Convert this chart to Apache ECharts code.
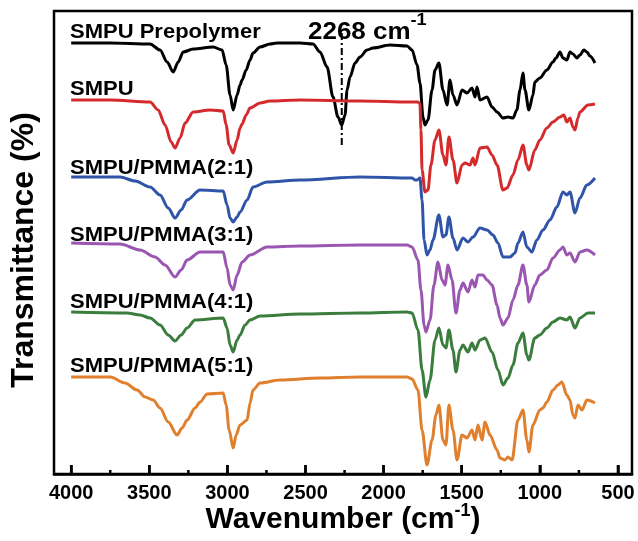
<!DOCTYPE html>
<html>
<head>
<meta charset="utf-8">
<script src="https://cdn.jsdelivr.net/npm/echarts@6/dist/echarts.min.js"></script>
<style>
html,body{margin:0;padding:0;background:#fff;}
#chart{width:638px;height:541px;}
</style>
</head>
<body>
<div id="chart"></div>
<script>
// ---- data: [wavenumber (cm-1), transmittance (offset, a.u.)] ----
const seriesNames = ['SMPU Prepolymer', 'SMPU', 'SMPU/PMMA(2:1)', 'SMPU/PMMA(3:1)', 'SMPU/PMMA(4:1)', 'SMPU/PMMA(5:1)'];
const seriesColors = ['#000000', '#d42a2c', '#2f54a8', '#9a56b0', '#3b7d3d', '#e07f2d'];
const xTicks = [4000, 3500, 3000, 2500, 2000, 1500, 1000, 500];
const xMinorTicks = [3750, 3250, 2750, 2250, 1750, 1250, 750];
const ncoPeak = 2268;
const ncoMarkerT = [441, 329];

const smpuPrepolymer = [[4000,431],[3750,431],[3495,430],[3431,424],[3386,412],[3347,402],[3315,412],[3283,422],[3219,425],[3091,427],[3034,424],[3008,409],[2983,379],[2963,364],[2938,379],[2919,389],[2906,394],[2880,404],[2855,414],[2836,421],[2791,427],[2727,430],[2682,431],[2535,431],[2452,430],[2407,422],[2362,407],[2324,377],[2292,357],[2268,349],[2247,359],[2234,384],[2215,397],[2183,411],[2151,417],[2106,424],[2068,426],[1959,429],[1850,428],[1818,424],[1786,409],[1767,391],[1748,357],[1735,349],[1716,354],[1690,384],[1671,404],[1646,411],[1620,384],[1594,369],[1575,394],[1556,379],[1530,369],[1498,384],[1466,381],[1434,386],[1415,377],[1402,387],[1383,374],[1338,377],[1306,367],[1274,362],[1236,356],[1204,357],[1172,356],[1147,364],[1127,384],[1108,401],[1095,384],[1070,364],[1044,379],[1032,392],[1000,396],[955,404],[916,412],[897,416],[871,422],[852,416],[827,414],[807,422],[788,420],[763,416],[743,419],[718,424],[699,422],[679,418],[647,411]];

const smpu = [[4000,374],[3750,374],[3495,372],[3443,364],[3399,349],[3360,332],[3335,326],[3303,336],[3271,351],[3219,362],[3111,364],[3027,363],[3008,349],[2989,329],[2963,321],[2938,334],[2919,346],[2906,350],[2880,359],[2855,366],[2791,371],[2727,373],[2535,374],[2151,373],[1831,372],[1780,372],[1767,370],[1761,344],[1754,304],[1735,282],[1716,284],[1697,309],[1671,334],[1646,344],[1620,319],[1601,309],[1582,337],[1556,314],[1530,291],[1498,309],[1479,311],[1447,309],[1428,316],[1415,309],[1383,326],[1338,327],[1306,319],[1274,309],[1236,284],[1210,286],[1172,299],[1140,314],[1108,329],[1083,309],[1070,304],[1032,324],[1000,334],[955,346],[916,352],[871,357],[846,359],[827,352],[807,356],[788,347],[775,344],[756,356],[743,362],[692,369],[647,370]];

const pmma21 = [[4000,297],[3687,297],[3591,293],[3495,287],[3431,279],[3379,266],[3335,256],[3296,264],[3258,274],[3175,284],[3027,283],[3002,269],[2983,256],[2963,252],[2938,257],[2919,262],[2874,274],[2836,287],[2746,292],[2535,294],[2151,297],[1818,296],[1799,294],[1786,294],[1767,296],[1754,274],[1741,234],[1722,219],[1703,224],[1684,234],[1646,259],[1620,237],[1601,239],[1582,257],[1556,236],[1530,224],[1492,236],[1460,232],[1428,237],[1383,246],[1338,244],[1300,239],[1268,231],[1236,217],[1191,217],[1159,221],[1140,231],[1108,242],[1083,227],[1051,222],[1019,234],[980,244],[935,254],[891,267],[852,282],[827,279],[807,282],[775,261],[743,276],[699,289],[647,296]];

const pmma31 = [[4000,231],[3687,230],[3559,224],[3463,217],[3399,209],[3335,197],[3296,204],[3258,214],[3175,222],[3027,222],[3002,206],[2983,189],[2963,184],[2938,199],[2906,212],[2855,219],[2746,227],[2535,228],[2151,229],[1850,229],[1818,227],[1780,214],[1761,184],[1741,149],[1729,142],[1703,154],[1678,189],[1652,212],[1626,194],[1607,189],[1588,209],[1562,194],[1537,161],[1511,184],[1492,191],[1460,182],[1434,194],[1415,187],[1396,199],[1364,199],[1338,194],[1306,189],[1274,169],[1255,156],[1236,149],[1204,156],[1172,174],[1140,189],[1108,209],[1083,189],[1070,172],[1032,189],[1000,199],[955,204],[916,216],[871,224],[852,227],[827,219],[807,221],[775,212],[743,222],[699,224],[647,219]];

const pmma41 = [[4000,162],[3642,161],[3559,159],[3495,156],[3431,149],[3379,139],[3335,133],[3296,139],[3258,146],[3207,154],[3027,156],[3002,146],[2983,129],[2963,122],[2938,134],[2919,139],[2887,149],[2855,154],[2791,158],[2535,160],[2151,161],[1850,162],[1818,161],[1780,144],[1754,104],[1729,77],[1703,94],[1671,134],[1646,146],[1620,129],[1601,126],[1582,144],[1556,124],[1537,102],[1511,124],[1492,129],[1460,122],[1434,131],[1415,124],[1383,134],[1351,136],[1306,122],[1268,104],[1236,89],[1204,96],[1172,109],[1140,131],[1108,141],[1083,119],[1070,114],[1032,136],[1000,139],[955,146],[916,152],[871,156],[827,154],[807,157],[775,146],[743,156],[692,161],[647,161]];

const pmma51 = [[4000,97],[3750,97],[3655,91],[3578,84],[3527,77],[3475,74],[3431,66],[3379,52],[3322,39],[3290,46],[3258,54],[3207,66],[3175,72],[3130,80],[3027,81],[3008,69],[2989,44],[2963,26],[2944,39],[2919,49],[2874,54],[2855,71],[2836,84],[2791,91],[2663,94],[2407,96],[2151,97],[1850,97],[1818,95],[1780,84],[1754,44],[1722,9],[1690,34],[1665,59],[1646,69],[1620,34],[1601,29],[1582,69],[1556,44],[1530,14],[1498,39],[1466,36],[1434,44],[1415,34],[1396,49],[1370,34],[1351,52],[1319,39],[1274,24],[1255,16],[1223,14],[1204,17],[1178,14],[1140,54],[1108,64],[1083,34],[1070,22],[1044,49],[1000,64],[980,66],[955,72],[916,84],[884,89],[859,92],[827,79],[807,74],[788,59],[775,56],[756,69],[730,64],[699,74],[647,71]];

const allData = [smpuPrepolymer, smpu, pmma21, pmma31, pmma41, pmma51];

// ---- chart ----
const chart = echarts.init(document.getElementById('chart'), null, {renderer: 'canvas'});
const FONT = '"Liberation Sans", Arial, Helvetica, sans-serif';
const MAJOR_LEN = 9, MINOR_LEN = 4;

const series = allData.map((d, i) => ({
  name: seriesNames[i],
  type: 'line',
  data: d,
  symbol: 'none',
  smooth: 0.3,
  smoothMonotone: 'x',
  lineStyle: {color: seriesColors[i], width: 3},
  itemStyle: {color: seriesColors[i]},
  z: 3
}));
series.push({
  name: 'NCO marker',
  type: 'line',
  data: [[ncoPeak, ncoMarkerT[0]], [ncoPeak, ncoMarkerT[1]]],
  symbol: 'none',
  lineStyle: {color: '#000', width: 2, type: [7, 3, 2, 3]},
  z: 4
});

const labelY = [32, 89, 168, 235, 302, 366];
const graphics = seriesNames.map((n, i) => ({
  type: 'text', x: 70, y: labelY[i], scaleX: 1.1, z: 10,
  style: {text: n, font: 'bold 20px ' + FONT, fill: '#000', textAlign: 'left', textVerticalAlign: 'middle', align: 'left', verticalAlign: 'middle'}
}));
graphics.push({
  type: 'text', x: 308, y: 13, scaleX: 1.13, z: 10,
  style: {
    text: '{a|2268 cm}{b|-1}', fill: '#000', textAlign: 'left', textVerticalAlign: 'top', align: 'left', verticalAlign: 'top',
    rich: {
      a: {fontSize: 23, fontWeight: 'bold', fontFamily: FONT, lineHeight: 40, fill: '#000', color: '#000'},
      b: {fontSize: 16, fontWeight: 'bold', fontFamily: FONT, lineHeight: 8, verticalAlign: 'top', fill: '#000', color: '#000'}
    }
  }
});
graphics.push({
  type: 'text', x: 343, y: 502, z: 10,
  style: {
    text: '{a|Wavenumber (cm}{b|-1}{a|)}', fill: '#000', textAlign: 'center', textVerticalAlign: 'top', align: 'center', verticalAlign: 'top',
    rich: {
      a: {fontSize: 30, fontWeight: 'bold', fontFamily: FONT, lineHeight: 36, fill: '#000', color: '#000'},
      b: {fontSize: 18, fontWeight: 'bold', fontFamily: FONT, lineHeight: 8, verticalAlign: 'top', fill: '#000', color: '#000'}
    }
  }
});
graphics.push({
  type: 'text', x: 24, y: 250, rotation: Math.PI / 2, z: 10,
  style: {text: 'Transmittance (%)', font: 'bold 32px ' + FONT, fill: '#000', textAlign: 'center', textVerticalAlign: 'middle', align: 'center', verticalAlign: 'middle'}
});

const option = {
  animation: false,
  backgroundColor: '#ffffff',
  grid: {left: 54, right: 6, top: 11, bottom: 67, show: true, borderColor: '#000', borderWidth: 2.5, backgroundColor: 'rgba(0,0,0,0)'},
  xAxis: {
    type: 'value', inverse: true, min: 410, max: 4110, position: 'bottom',
    axisLine: {show: true, onZero: false, lineStyle: {color: '#000', width: 2.5}},
    axisTick: {show: true, inside: true, length: MAJOR_LEN, customValues: xTicks, lineStyle: {color: '#000', width: 2.5}},
    axisLabel: {show: true, customValues: xTicks, formatter: v => String(v), fontSize: 20, fontWeight: 'bold', color: '#000', fontFamily: FONT, margin: 9},
    splitLine: {show: false}
  },
  yAxis: {type: 'value', min: 0, max: 463, show: false},
  series: series,
  graphic: graphics
};
chart.setOption(option);

// inward tick marks placed with the chart's own x scale
const tickGraphics = [];
xTicks.concat(xMinorTicks).forEach((v, k) => {
  const len = k < xTicks.length ? MAJOR_LEN : MINOR_LEN;
  const p = chart.convertToPixel({xAxisIndex: 0, yAxisIndex: 0}, [v, 0]);
  if (p && isFinite(p[0])) {
    tickGraphics.push({
      type: 'line', z: 20, silent: true,
      shape: {x1: p[0], y1: p[1], x2: p[0], y2: p[1] - len},
      style: {stroke: '#000', lineWidth: 2.5}
    });
  }
});
chart.setOption({graphic: graphics.concat(tickGraphics)});
</script>
</body>
</html>
